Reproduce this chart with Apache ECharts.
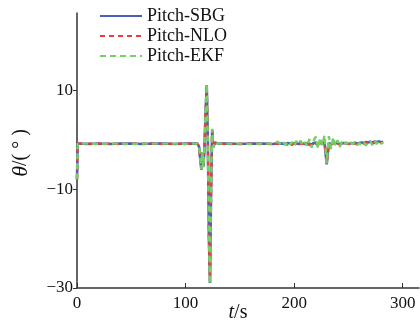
<!DOCTYPE html>
<html>
<head>
<meta charset="utf-8">
<script src="https://cdn.jsdelivr.net/npm/echarts@6/dist/echarts.min.js"></script>
<style>
  html, body { margin: 0; padding: 0; background: #fff; }
  #chart { width: 420px; height: 325px; }
</style>
</head>
<body>
<div id="chart"></div>
<script>
// Pitch angle over time from three estimators
const seriesNames = ['Pitch-SBG', 'Pitch-NLO', 'Pitch-EKF'];
const yTicks = [-30, -10, 10];
const xTicks = [0, 100, 200, 300];

const timeS = [
  0, 0.6, 2, 10, 20, 30, 40, 50, 60, 70, 80, 90, 100, 106, 111,
  112.5, 113.5, 114.5, 115.5, 116.5, 117.5, 118.5, 119.5, 120.5, 121.5,
  122.5, 123.5, 124.5, 125.5, 127, 130, 140, 150, 160, 170, 180, 185,
  188, 190, 192, 194, 196, 198, 200, 202, 204, 206, 208, 210, 212, 214, 216,
  218, 220, 222, 224, 226, 228, 230, 232, 234, 236, 238, 240, 242, 244,
  246, 248, 250, 252, 254, 256, 258, 260, 262, 264, 266, 268, 270, 272,
  274, 276, 278, 280, 282
];

const pitchSBG = [
  -8, -0.8, -0.8, -0.9, -0.8, -0.9, -0.8, -0.8, -0.9, -0.8, -0.8, -0.9, -0.8, -0.8, -0.8,
  -1.5, -4, -6, -2.5, -5.5, -1, 6, 11, 0, -20,
  -29, -10, 2, -1.5, -0.6, -0.8, -0.8, -0.9, -0.8, -0.8, -0.9, -0.8,
  -0.8, -0.8, -0.9, -0.7, -0.8, -1.0, -0.7, -0.8, -0.9, -0.6, -0.8, -0.9, -0.7, -0.8, -1.0,
  -0.7, -0.6, -0.9, -0.7, -0.8, -0.6, -5.0, -0.7, -0.9, -0.6, -0.8, -0.7, -0.9, -0.8,
  -0.7, -0.8, -0.9, -0.7, -0.8, -0.6, -0.8, -0.7, -0.6, -0.7, -0.5, -0.6, -0.4, -0.6,
  -0.4, -0.5, -0.4, -0.5, -0.5
];

const pitchNLO = [
  -8, -0.8, -0.9, -0.8, -0.8, -0.8, -0.9, -0.8, -0.8, -0.8, -0.9, -0.8, -0.8, -0.8, -0.8,
  -1.6, -4.2, -6.1, -2.6, -5.4, -1.1, 5.8, 10.8, 0.2, -19.5,
  -28.8, -10.5, 1.8, -1.4, -0.7, -0.8, -0.9, -0.8, -0.8, -0.9, -0.8, -0.8,
  -0.8, -0.9, -0.8, -1.0, -0.7, -0.9, -0.8, -1.1, -0.7, -0.9, -0.8, -1.0, -0.7, -1.1, -0.9,
  -0.6, -0.8, -1.2, -0.6, -0.9, -0.5, -4.6, -0.8, -1.1, -0.7, -0.9, -0.8, -1.0, -0.7,
  -0.9, -0.8, -0.8, -0.9, -0.7, -0.8, -0.9, -0.8, -0.7, -0.8, -0.6, -0.8, -0.6, -0.7,
  -0.6, -0.7, -0.5, -0.6, -0.6
];

const pitchEKF = [
  -8, -0.8, -0.8, -0.8, -0.9, -0.8, -0.8, -0.9, -0.8, -0.8, -0.8, -0.8, -0.9, -0.8, -0.8,
  -1.4, -3.9, -6.0, -2.4, -5.6, -0.9, 6.2, 11.2, -0.2, -20.5,
  -29.2, -9.6, 2.2, -1.6, -0.5, -0.8, -0.8, -0.8, -0.9, -0.8, -0.8, -0.4,
  -1.1, -0.6, -1.1, -0.4, -1.0, -0.5, -1.3, -0.3, -0.9, -0.2, -1.2, -0.5, -1.4, 0.1, -1.6,
  -0.2, 0.6, -1.8, 0.4, -1.2, 0.9, -4.8, 0.7, -1.9, 0.5, -1.3, -0.1, -1.5, -0.4,
  -1.0, -0.5, -1.2, -0.6, -0.9, -0.4, -1.1, -0.7, -1.0, -0.5, -1.2, -0.6, -0.3, -1.1,
  -0.2, -0.9, -0.3, -0.8, -0.6
];

const pair = vals => timeS.map((t, i) => [t, vals[i]]);

const colors = ['#4a5db8', '#ee3b3b', '#74d062'];
const font = '"Liberation Serif", "DejaVu Serif", serif';

const chart = echarts.init(document.getElementById('chart'), null, { renderer: 'canvas' });

chart.setOption({
  animation: false,
  backgroundColor: '#ffffff',
  grid: { left: 77, top: 13, right: 1, bottom: 37, containLabel: false },
  legend: {
    orient: 'vertical',
    left: 99,
    top: 7,
    padding: 0,
    itemWidth: 42,
    itemHeight: 14,
    itemGap: 2,
    data: seriesNames,
    itemStyle: { opacity: 0 },
    textStyle: { fontFamily: font, fontSize: 18, lineHeight: 15, color: '#111' }
  },
  xAxis: {
    type: 'value',
    min: 0,
    max: 315,
    interval: 100,
    splitLine: { show: false },
    axisLine: { onZero: false, lineStyle: { color: '#333', width: 1.5 } },
    axisTick: { inside: true, length: 5, customValues: xTicks, lineStyle: { color: '#333' } },
    axisLabel: { customValues: xTicks, fontFamily: font, fontSize: 17, color: '#111', margin: 7 }
  },
  yAxis: {
    type: 'value',
    min: -30,
    max: 25.6,
    interval: 20,
    splitLine: { show: false },
    axisLine: { show: true, onZero: false, lineStyle: { color: '#333', width: 1.5 } },
    axisTick: { show: true, inside: false, length: 4, customValues: yTicks, lineStyle: { color: '#333' } },
    axisLabel: {
      customValues: yTicks,
      fontFamily: font, fontSize: 17, color: '#111', margin: 4,
      formatter: v => (v < 0 ? '\u2212' + Math.abs(v) : String(v))
    }
  },
  graphic: [
    {
      type: 'text',
      x: 21, y: 153,
      rotation: Math.PI / 2,
      style: {
        text: '{i|θ}/( ° )',
        rich: { i: { fontStyle: 'italic', fontFamily: font, fontSize: 22, fill: '#111' } },
        font: '20px ' + font,
        fill: '#111',
        align: 'center',
        verticalAlign: 'middle'
      }
    },
    {
      type: 'text',
      x: 238, y: 313,
      style: {
        text: '{i|t}/s',
        rich: { i: { fontStyle: 'italic', fontFamily: font, fontSize: 20, fill: '#111' } },
        font: '20px ' + font,
        fill: '#111',
        align: 'center',
        verticalAlign: 'middle'
      }
    }
  ],
  series: [
    {
      name: seriesNames[0], type: 'line', data: pair(pitchSBG),
      showSymbol: false, symbol: 'none',
      lineStyle: { color: colors[0], width: 2.6, type: 'solid' },
      itemStyle: { color: colors[0] }, z: 2
    },
    {
      name: seriesNames[1], type: 'line', data: pair(pitchNLO),
      showSymbol: false, symbol: 'none',
      lineStyle: { color: colors[1], width: 2.4, type: [5, 4] },
      itemStyle: { color: colors[1] }, z: 3
    },
    {
      name: seriesNames[2], type: 'line', data: pair(pitchEKF),
      showSymbol: false, symbol: 'none',
      lineStyle: { color: colors[2], width: 2.4, type: [6, 4] },
      itemStyle: { color: colors[2] }, z: 4
    }
  ]
});
</script>
</body>
</html>
